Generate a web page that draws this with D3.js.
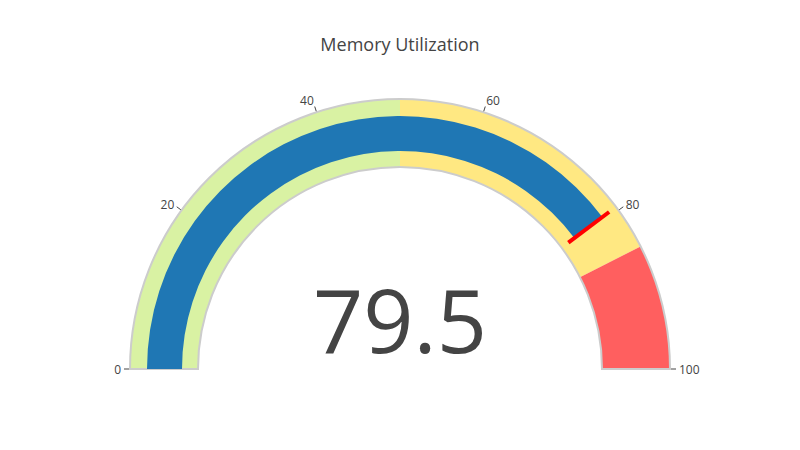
<!DOCTYPE html>
<html><head><meta charset="utf-8">
<script src="https://cdn.jsdelivr.net/npm/d3@7"></script>
<style>body{margin:0;background:#fff;}svg{display:block;}</style>
</head><body>
<svg id="chart" width="800" height="450"></svg>
<script>
const title = "Memory Utilization";
const value = 79.5;
const threshold = 79.5;
const rangeMin = 0, rangeMax = 100;
const tickValues = [0, 20, 40, 60, 80, 100];
const stepStarts = [0, 50, 85];
const stepEnds = [50, 85, 100];
const stepColors = ["#d9f2a3", "#ffe882", "#ff5f5f"];

const svg = d3.select("#chart");
const cx = 400, cy = 369, rOuter = 270, rInner = 202;
const rBarOuter = 253, rBarInner = 218;

const ang = d3.scaleLinear().domain([rangeMin, rangeMax]).range([-Math.PI/2, Math.PI/2]);
const g = svg.append("g").attr("transform", `translate(${cx},${cy})`);

const arc = d3.arc();
stepStarts.forEach((s, i) => {
  g.append("path").attr("d", arc({innerRadius: rInner, outerRadius: rOuter, startAngle: ang(s), endAngle: ang(stepEnds[i])}))
    .attr("fill", stepColors[i]);
});
// border
g.append("path").attr("d", arc({innerRadius: rInner, outerRadius: rOuter, startAngle: ang(rangeMin), endAngle: ang(rangeMax)}))
  .attr("fill", "none").attr("stroke", "#cccccc").attr("stroke-width", 2);
// bar
g.append("path").attr("d", arc({innerRadius: rBarInner, outerRadius: rBarOuter, startAngle: ang(rangeMin), endAngle: ang(value)}))
  .attr("fill", "#1f77b4");
// threshold
const ta = ang(threshold);
const tr1 = 210.5, tr2 = 261.5;
g.append("line")
  .attr("x1", tr1*Math.sin(ta)).attr("y1", -tr1*Math.cos(ta))
  .attr("x2", tr2*Math.sin(ta)).attr("y2", -tr2*Math.cos(ta))
  .attr("stroke", "#ff0000").attr("stroke-width", 4);
// ticks
tickValues.forEach(v => {
  const a = ang(v), s = Math.sin(a), c = Math.cos(a);
  g.append("line")
    .attr("x1", (rOuter+1)*s).attr("y1", -(rOuter+1)*c)
    .attr("x2", (rOuter+6)*s).attr("y2", -(rOuter+6)*c)
    .attr("stroke", "#444").attr("stroke-width", 1);
  const rl = rOuter + 9;
  const anchor = Math.abs(s) < 0.2 ? "middle" : (s < 0 ? "end" : "start");
  g.append("text")
    .attr("x", rl*s).attr("y", -rl*c - 4*c*c + 1)
    .attr("dy", "0.35em")
    .attr("text-anchor", anchor)
    .attr("font-family", "'Open Sans', verdana, arial, sans-serif")
    .attr("font-size", 12).attr("fill", "#444")
    .text(v);
});
// number
svg.append("text").attr("x", cx).attr("y", 353).attr("text-anchor", "middle")
  .attr("font-family", "'Open Sans', verdana, arial, sans-serif")
  .attr("font-size", 88).attr("fill", "#444").text(value);
// title
svg.append("text").attr("x", 400).attr("y", 51).attr("text-anchor", "middle")
  .attr("font-family", "'Open Sans', verdana, arial, sans-serif")
  .attr("font-size", 18).attr("fill", "#444").text(title);
</script>
</body></html>
